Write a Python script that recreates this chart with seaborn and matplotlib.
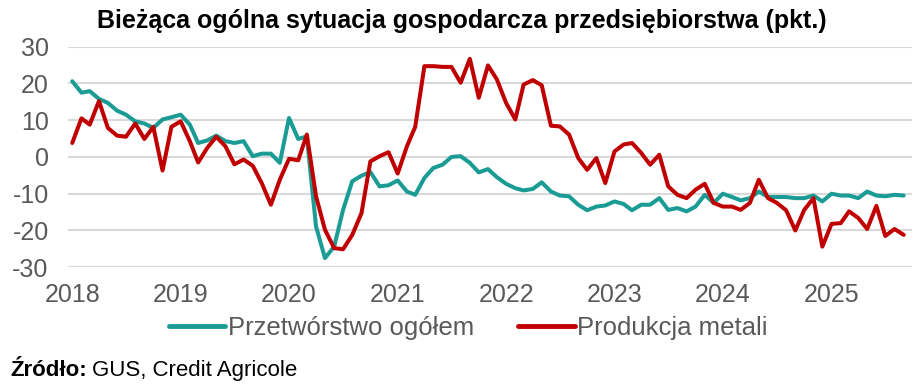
import pandas as pd
import seaborn as sns
import matplotlib.pyplot as plt
import matplotlib.dates as mdates

months = pd.date_range('2018-01-01', '2025-09-01', freq='MS')

przetworstwo = [
    20.6, 17.5, 17.9, 15.8, 14.7, 12.6, 11.5, 9.7, 9.1, 7.9, 10.2, 10.8,
    11.5, 8.8, 3.8, 4.5, 5.8, 4.3, 3.8, 4.3, 0.2, 0.9, 0.9, -1.6,
    10.6, 4.9, 5.6, -18.9, -27.5, -24.4, -14.4, -6.6, -5.1, -4.1, -8.0, -7.7,
    -6.4, -9.4, -10.3, -5.7, -3.0, -2.1, 0.0, 0.2, -1.6, -4.2, -3.3, -5.5,
    -7.3, -8.5, -9.1, -8.7, -6.9, -9.4, -10.5, -10.7, -13.0, -14.5, -13.5, -13.2,
    -12.1, -12.8, -14.5, -13.0, -13.0, -11.2, -14.4, -13.9, -14.8, -13.5, -10.3, -12.5,
    -10.0, -10.9, -11.8, -11.2, -9.4, -10.9, -10.9, -10.9, -11.2, -11.2, -10.5, -12.1,
    -10.0, -10.5, -10.5, -11.2, -9.4, -10.5, -10.7, -10.3, -10.5,
]

metale = [
    3.8, 10.5, 8.8, 15.2, 7.9, 5.8, 5.5, 9.1, 4.9, 8.2, -3.7, 8.2,
    9.7, 4.3, -1.5, 2.5, 5.5, 2.9, -2.0, -0.7, -2.4, -7.1, -13.0, -6.2,
    -0.5, -0.9, 6.1, -10.7, -19.8, -24.8, -25.1, -21.2, -15.3, -1.2, 0.2, 1.3,
    -4.5, 2.9, 8.2, 24.7, 24.7, 24.5, 24.5, 20.2, 26.7, 16.1, 24.9, 21.1,
    14.7, 10.2, 19.7, 20.9, 19.5, 8.5, 8.3, 6.1, -0.3, -3.5, -0.3, -7.1,
    1.5, 3.4, 3.8, 1.1, -2.1, 0.6, -8.0, -10.3, -11.2, -8.9, -7.3, -12.5,
    -13.5, -13.5, -14.4, -12.5, -6.2, -11.2, -12.5, -14.5, -20.0, -14.4, -11.2, -24.4,
    -18.2, -18.0, -14.8, -16.6, -19.6, -13.3, -21.5, -19.6, -21.2,
]

series_names = ['Przetwórstwo ogółem', 'Produkcja metali']
colors = ['#1a9c95', '#c00000']

df = pd.concat([
    pd.DataFrame({'data': months, 'wartosc': przetworstwo, 'seria': series_names[0]}),
    pd.DataFrame({'data': months, 'wartosc': metale, 'seria': series_names[1]}),
])

sns.set_style('white')
plt.rcParams['font.family'] = ['Liberation Sans', 'DejaVu Sans']
plt.rcParams['axes.unicode_minus'] = False

fig = plt.figure(figsize=(9.2, 3.89), dpi=100)
ax = fig.add_axes([0.074, 0.313, 0.917, 0.567])

sns.lineplot(data=df, x='data', y='wartosc', hue='seria', hue_order=series_names,
             palette=colors, linewidth=2.9, ax=ax, legend=False)

ax.set_ylim(-30, 30)
ax.set_yticks(range(-30, 31, 10))
ax.set_xlim(months[0] - pd.Timedelta(days=14), months[-1] + pd.Timedelta(days=27))
ax.xaxis.set_major_locator(mdates.YearLocator())
ax.xaxis.set_major_formatter(mdates.DateFormatter('%Y'))
ax.grid(axis='y', color='#d9d9d9', linewidth=1.5)
ax.set_axisbelow(True)
for s in ax.spines.values():
    s.set_visible(False)
ax.tick_params(axis='both', length=0, labelsize=18, colors='#595959')
ax.tick_params(axis='x', pad=11)
ax.tick_params(axis='y', pad=14)
ax.set(xlabel='', ylabel='')

fig.text(0.502, 0.945, 'Bieżąca ogólna sytuacja gospodarcza przedsiębiorstwa (pkt.)',
         ha='center', va='center', fontsize=18, fontweight='bold', color='black')

handles = [plt.Line2D([], [], color=c, linewidth=3.5) for c in colors]
fig.legend(handles, series_names, loc='center', bbox_to_anchor=(0.509, 0.158),
           ncol=2, frameon=False, fontsize=18.5, handlelength=2.2,
           handletextpad=0.1, columnspacing=1.7, labelcolor='#595959')

src = fig.text(0.011, 0.048, 'Źródło:', ha='left', va='center', fontsize=16,
               fontweight='bold', color='black')
fig.canvas.draw()
bb = src.get_window_extent().transformed(fig.transFigure.inverted())
fig.text(bb.x1 + 0.006, 0.048, 'GUS, Credit Agricole', ha='left', va='center',
         fontsize=16, color='black')

plt.savefig('out.png', dpi=100)
